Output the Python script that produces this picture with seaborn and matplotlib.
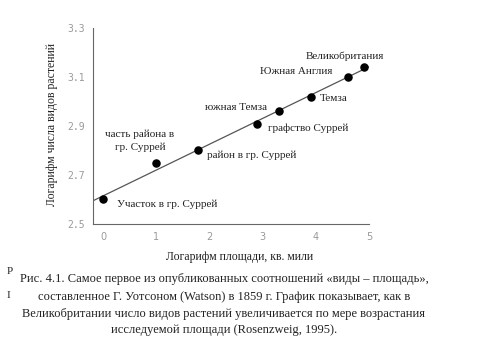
import matplotlib
matplotlib.use("Agg")
import matplotlib.pyplot as plt
import seaborn as sns
import pandas as pd

# ---- data ----
log_area = [0.0, 1.0, 1.79, 2.9, 3.3, 3.9, 4.6, 4.9]
log_species = [2.60, 2.75, 2.80, 2.91, 2.96, 3.02, 3.10, 3.14]
labels = ["Участок в гр. Суррей", "часть района в\nгр. Суррей", "район в гр. Суррей",
          "южная Темза", "графство Суррей", "Темза", "Южная Англия", "Великобритания"]
label_x = [0.26, 0.69, 1.95, 1.91, 3.10, 4.07, 2.95, 3.81]
label_y = [2.582, 2.84, 2.779, 2.975, 2.889, 3.012, 3.123, 3.184]
label_ha = ["left", "center", "left", "left", "left", "left", "left", "left"]
x_ticks = [0, 1, 2, 3, 4, 5]
y_ticks = [2.5, 2.7, 2.9, 3.1, 3.3]
x_title = "Логарифм площади, кв. мили"
y_title = "Логарифм числа видов растений"
caption = ["Рис. 4.1. Самое первое из опубликованных соотношений «виды – площадь»,",
           "составленное Г. Уотсоном (Watson) в 1859 г. График показывает, как в",
           "Великобритании число видов растений увеличивается по мере возрастания",
           "исследуемой площади (Rosenzweig, 1995)."]

df = pd.DataFrame({"x": log_area, "y": log_species})

sns.set_style("white")
plt.rcParams["font.family"] = ["Liberation Serif", "DejaVu Serif"]

fig = plt.figure(figsize=(4.8, 3.6), dpi=100)
ax = fig.add_axes([0.194, 0.378, 0.575, 0.544])
ax.set_xlim(-0.19, 5.0)
ax.set_ylim(2.5, 3.3)

sns.regplot(data=df, x="x", y="y", ax=ax, ci=None, truncate=False,
            scatter_kws=dict(s=26, color="black", edgecolor="black", alpha=1, zorder=3),
            line_kws=dict(color="#555555", lw=0.9))
ax.set_xlim(-0.19, 5.0)
ax.set_ylim(2.5, 3.3)

for t, lx, ly, ha in zip(labels, label_x, label_y, label_ha):
    ax.text(lx, ly, t, ha=ha, va="center", fontsize=8, color="#222222",
            multialignment="center", linespacing=1.35)

ax.set_xticks(x_ticks)
ax.set_yticks(y_ticks)
ax.set_xticklabels([str(v) for v in x_ticks], family="DejaVu Sans", fontsize=7, color="#999999")
ax.set_yticklabels([f"{v:.1f}" for v in y_ticks], family="DejaVu Sans Mono", fontsize=7, color="#999999")
ax.tick_params(axis="both", direction="inout", length=4, width=0.7, color="#666666", pad=4)
ax.set_xlabel("")
ax.set_ylabel("")
for s in ["top", "right"]:
    ax.spines[s].set_visible(False)
for s in ["left", "bottom"]:
    ax.spines[s].set_color("#666666")
    ax.spines[s].set_linewidth(0.8)

fig.text(0.5, 1 - 257 / 360, x_title, ha="center", va="center", fontsize=8.5, color="#222222")
fig.text(52 / 480, 1 - 125 / 360, y_title, ha="center", va="center", rotation=90,
         fontsize=8.5, color="#222222")

cap_y = [279, 297, 314, 330]
for line, cy in zip(caption, cap_y):
    fig.text(224 / 480, 1 - cy / 360, line, ha="center", va="center", fontsize=9, color="#222222")
fig.text(10 / 480, 1 - 272 / 360, "P", ha="center", va="center", fontsize=8, color="#222222")
fig.text(8 / 480, 1 - 295 / 360, "I", ha="center", va="center", fontsize=8, color="#222222")

fig.savefig("out.png", dpi=100)
